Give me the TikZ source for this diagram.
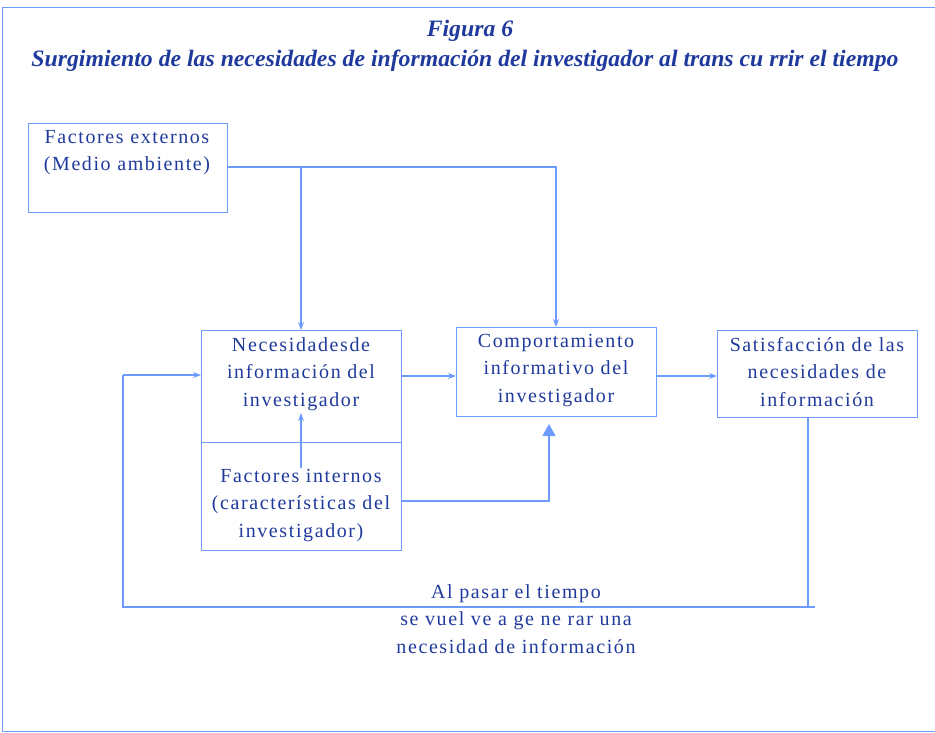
\documentclass[tikz,border=0pt]{standalone}
\usepackage{fontspec}
\setmainfont{Liberation Serif}
\newfontfamily\boxfont[LetterSpace=8]{Liberation Serif}
\newfontfamily\titlefont[FakeStretch=1.01]{Liberation Serif}
\usetikzlibrary{arrows.meta,calc}
\definecolor{lineblue}{HTML}{6E9BFF}
\definecolor{textblue}{HTML}{1F3A9C}
\tikzset{
  x=1pt,y=-1pt,
  boxstyle/.style={draw=lineblue,line width=1.1pt,minimum width=#1,inner sep=0pt,anchor=north west},
  boxstyle/.default=200pt,
  lbl/.style={text=textblue,font=\boxfont\fontsize{20}{27.5}\selectfont,align=center,inner sep=0pt,anchor=north},
  ttl/.style={text=textblue,font=\titlefont\bfseries\itshape\fontsize{23.5}{26}\selectfont,inner sep=0pt},
  conn/.style={draw=lineblue,line width=1.1pt},
  arr/.style={conn,-{Stealth[length=8pt,width=6pt]}},
  bigarr/.style={conn,-{Triangle[length=12pt,width=13pt]}},
}
\begin{document}
\begin{tikzpicture}
\useasboundingbox (0,0) rectangle (935,732);
% frame
\draw[lineblue,line width=1pt] (935,7) -- (2,7) -- (2,731) -- (935,731);
% titles
\node[ttl] (fig) at (470,31) {Figura 6};
\node[ttl] (sub) at (465,61) {Surgimiento de las necesidades de información del investigador al trans cu rrir el tiempo};
% boxes
\node[boxstyle=199pt,minimum height=89pt] (ext) at (28,123) {};
\node[boxstyle,minimum height=112pt] (nec) at (201,330) {};
\node[boxstyle,minimum height=108pt] (int) at (201,442) {};
\node[boxstyle,minimum height=89pt] (comp) at (456,327) {};
\node[boxstyle,minimum height=87pt] (sat) at (717,330) {};
% labels
\node[lbl] (extl) at (127,130) {Factores externos\\(Medio ambiente)};
\node[lbl] (necl) at (301,337) {Necesidadesde\\información del\\investigador};
\node[lbl] (intl) at (301,469) {Factores internos\\(características del\\investigador)};
\node[lbl] (compl) at (556,334) {Comportamiento\\informativo del\\investigador};
\node[lbl] (satl) at (817,337) {Satisfacción de las\\necesidades de\\información};
\node[lbl] (time) at (516,584) {Al pasar el tiempo\\se vuel ve a ge ne rar una\\necesidad de información};
% coordinates
\coordinate (c1) at (556,167);
\coordinate (c2) at (301,167);
\coordinate (c3) at (301,468);
\coordinate (c4) at (301,413);
\coordinate (c5) at (549,501);
\coordinate (c6) at (549,424);
\coordinate (c7) at (808,607);
\coordinate (c8) at (815,607);
\coordinate (c9) at (123,607);
\coordinate (c10) at (123,375);
% connectors
\draw[arr] (ext.east |- c1) -- (c1) -- (comp.north -| c1);
\draw[arr] (c2) -- (nec.north -| c2);
\draw[arr] (nec.east |- 0,376) -- (comp.west |- 0,376);
\draw[arr] (comp.east |- 0,376) -- (sat.west |- 0,376);
\draw[arr] (c3) -- (c4);
\draw[bigarr] (int.east |- c5) -- (c5) -- (c6);
\draw[conn] (sat.south -| c7) -- (c7);
\draw[conn] (c8) -- (c9) -- (c10);
\draw[arr] (c10) -- (nec.west |- c10);
\end{tikzpicture}
\end{document}
